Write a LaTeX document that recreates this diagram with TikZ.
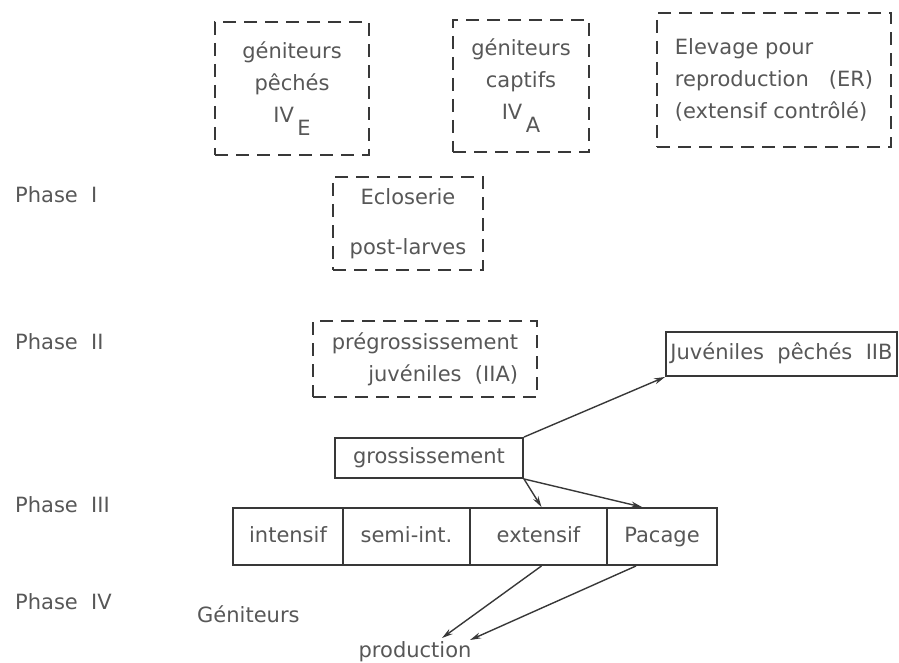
\documentclass[tikz,border=0pt]{standalone}
\usepackage{fontspec}
\setmainfont{DejaVu Sans}
\usetikzlibrary{arrows.meta}
\definecolor{ink}{HTML}{383838}
\definecolor{txt}{HTML}{575757}
\newcommand\droppedletter[1]{\raisebox{-0.62em}{#1}}
\begin{document}
\begin{tikzpicture}[x=1pt,y=-1pt,
  every node/.style={font=\fontsize{21}{32}\selectfont, text=txt, inner sep=0pt},
  dbox/.style={draw=ink, line width=1.9pt, dash pattern=on 13pt off 8pt},
  sbox/.style={draw=ink, line width=1.9pt, text height=15pt, text depth=4pt},
  cell/.style={sbox, minimum height=57pt},
  arr/.style={draw=ink, line width=1.4pt, -{Stealth[length=11pt,width=6pt]}},
  phase/.style={anchor=west}
]
\useasboundingbox (0,0) rectangle (899,663);

% breeding stock (top row)
\node[dbox, minimum width=154pt, minimum height=133pt, align=center] (peches) at (292,88.5)
  {géniteurs\\pêchés\\IV\,\droppedletter{E}};
\node[dbox, minimum width=136pt, minimum height=132pt, align=center] (captifs) at (521,86)
  {géniteurs\\captifs\\IV\,\droppedletter{A}};
\node[dbox, minimum width=234pt, minimum height=134pt, align=left] (elevage) at (774,80)
  {Elevage pour\\reproduction\ \ \ (ER)\\(extensif contrôlé)};

% phase I and II
\node[dbox, minimum width=150pt, minimum height=93pt, align=center] (eclos) at (408,223.5)
  {Ecloserie\\[18pt]post-larves};
\node[dbox, minimum width=224pt, minimum height=76pt, align=right] (pregros) at (425,359)
  {prégrossissement\\juvéniles\ \ (IIA)};
\node[sbox, minimum width=231pt, minimum height=44pt] (juv) at (781.5,354)
  {Juvéniles\ \ pêchés\ \ IIB};

% phase III
\node[sbox, minimum width=188pt, minimum height=40pt] (gros) at (429,458) {grossissement};
\node[cell, minimum width=110pt] (int) at (288,536.5) {intensif};
\node[cell, minimum width=127pt] (semi) at (406.5,536.5) {semi-int.};
\node[cell, minimum width=137pt] (ext) at (538.5,536.5) {extensif};
\node[cell, minimum width=110pt] (pac) at (662,536.5) {Pacage};

% phase IV
\node[anchor=west] (genit) at (197,614) {Géniteurs};
\node (prod) at (415,652) {production};
\coordinate (pin1) at (442,638);
\coordinate (pin2) at (470,640);

% phase labels
\node[phase] (ph1) at (15,195) {Phase\ \ I};
\node[phase] (ph2) at (15,342) {Phase\ \ II};
\node[phase] (ph3) at (15,505) {Phase\ \ III};
\node[phase] (ph4) at (15,602) {Phase\ \ IV};

% connectors
\draw[arr] (gros.north east) -- (juv.south west);
\draw[arr] (gros.south east) -- ([xshift=3pt]ext.north);
\draw[arr] (gros.south east) -- ([xshift=36pt]pac.north west);
\draw[arr] ([xshift=3pt]ext.south) -- (pin1);
\draw[arr] ([xshift=30pt]pac.south west) -- (pin2);
\end{tikzpicture}
\end{document}
